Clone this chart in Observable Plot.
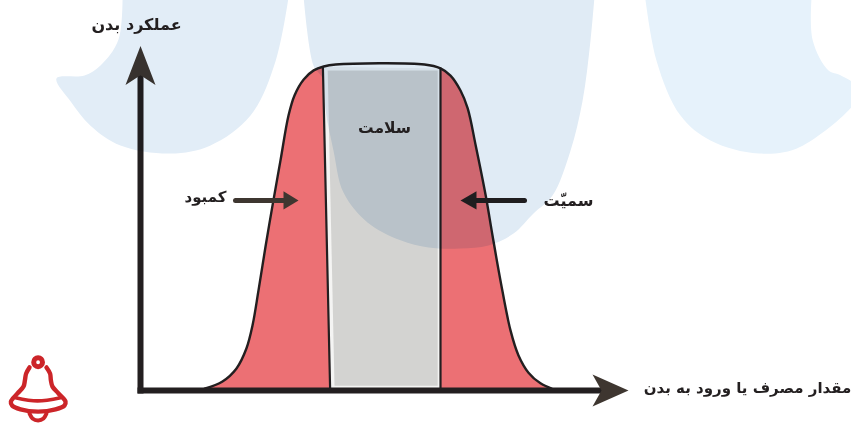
<!DOCTYPE html>
<html lang="fa"><head><meta charset="utf-8">
<script src="https://cdn.jsdelivr.net/npm/d3@7"></script>
<script src="https://cdn.jsdelivr.net/npm/@observablehq/plot@0.6"></script>
<style>html,body{margin:0;padding:0;background:#fff}svg{display:block}</style>
</head><body><div id="chart"></div>
<script>
// All values are in chart units: dose (x) and performance (y).
const doseDomain = [-35, 177.75];
const perfDomain = [-10.15, 120];
const U = (a) => a.map(([dose, perf]) => ({dose, perf}));

const responseCurve = U([[16,0.6],[20.5,2.8],[24,6.8],[26.5,13],[28,20],[29.5,30.8],[31.3,44.6],[33,56.9],[35,70.8],[37,84.6],[38.5,90.8],[40.8,95.7],[43.3,98.5],[45.8,99.7],[48.8,100.3],[71,100.3],[75,99.1],[77.5,96.9],[80,92.3],[81.8,86.8],[83.8,75.4],[86.3,60],[88,47.7],[90,33.8],[92.5,18.5],[94.5,10.8],[97,5.5],[100,2.2],[102.8,0.6]]);
const deficiencyArea = [...responseCurve.filter(d => d.dose <= 45.8), ...U([[45.9,95],[46.7,50],[47.5,5],[47.6,0.6]])];
const toxicityArea = [...U([[75,0.6],[75,5],[75,50],[75,95]]), ...responseCurve.filter(d => d.dose >= 75)];
const healthyBorder = U([[45.7,99.6],[47.5,0.6],[75,0.6],[75,99.1]]);
const healthyArea = U([[46.8,98.5],[48.5,1.5],[74.3,1.5],[74.3,98.5]]);
const leftDivider = U([[45.6,99.5],[47.4,0.6]]);
const rightDivider = U([[75,99.1],[75,0.6]]);
const xAxisLine = U([[0,0],[116,0]]);
const yAxisLine = U([[0,0],[0,97]]);
const xArrow = U([[113,4.9],[122,0],[113,-4.9],[115.25,0]]);
const yArrow = U([[0,106],[3.75,94],[0,97],[-3.75,94]]);
const defArrowShaft = U([[23.75,58.5],[36,58.5]]);
const defArrowHead = U([[35.75,61.3],[39.5,58.5],[35.75,55.7]]);
const toxArrowShaft = U([[96,58.5],[84,58.5]]);
const toxArrowHead = U([[84,61.3],[80,58.5],[84,55.7]]);
const labels = [
  {dose:-1, perf:112.5, text:"عملکرد بدن", size:16},
  {dose:61, perf:80.9, text:"سلامت", size:15.5},
  {dose:16.25, perf:59.5, text:"کمبود", size:15},
  {dose:107, perf:58.5, text:"سمیّت", size:16},
  {dose:151.75, perf:0.6, text:"مقدار مصرف یا ورود به بدن", size:15}
];
// Background watermark blobs
const blobA = U([[-4.5,125],[-5.5,108],[-10,100],[-14,96.9],[-21,96],[-17.5,89],[-12.5,81.5],[-5,75.4],[7.5,72.9],[17.5,75.4],[27.5,84.6],[33.8,101.5],[37.5,125]]);
const blobB = U([[40.5,125],[43.25,100],[45.5,96],[46.3,86],[48.25,73.8],[50.75,60.9],[56.75,51.7],[65,46.2],[72,44],[80,43.7],[87,44.6],[93.25,48.3],[98.25,54.5],[103,60],[107.5,73.8],[110.5,89],[112.5,107.7],[113.75,125]]);
const blobC = U([[125.75,125],[129,101.5],[135,84.6],[142.5,76.9],[154.5,72.9],[165,75],[180,92],[175,97],[172,98.5],[168,108],[168,125]]);
// Bell icon
const bellBody = U([[-27.75,7.1],[-28.6,5.2],[-28.9,3.1],[-29.25,1.2],[-30.75,-0.9],[-32.4,-3.4],[-32.1,-4.6],[-30,-5.8],[-25.6,-6.5],[-21.25,-5.8],[-19,-4.6],[-18.75,-3.4],[-20.5,-0.9],[-22,1.2],[-22.4,3.1],[-22.6,5.2],[-23.5,7.1]]);
const bellBand = U([[-31.25,-2.2],[-25.75,-3.2],[-20,-2.2]]);
const bellClapper = U([[-27.75,-7.1],[-27,-8.6],[-25.6,-9.2],[-24.25,-8.6],[-23.5,-7.1]]);
const bellKnob = [{dose:-25.6, perf:8.7}];

const line = (data, o) => Plot.line(data, {x:"dose", y:"perf", ...o});
const shape = (data, fill, o={}) => Plot.line(data, {x:"dose", y:"perf", fill, stroke:"none", ...o});
const smooth = {curve:"catmull-rom"};
const watermark = {mixBlendMode:"multiply", curve:"catmull-rom"};

const plot = Plot.plot({
  width:851, height:423, margin:0,
  x:{domain:doseDomain, range:[0,851], axis:null},
  y:{domain:perfDomain, range:[423,0], axis:null},
  style:{background:"#fff", fontFamily:"'DejaVu Sans',sans-serif"},
  marks:[
    shape(deficiencyArea,"#ec7074",smooth),
    shape(toxicityArea,"#ec7074",smooth),
    shape(healthyBorder,"#f4f4f3"),
    shape(healthyArea,"#d3d3d1"),
    line(leftDivider,{stroke:"#231f20",strokeWidth:2.2}),
    line(rightDivider,{stroke:"#231f20",strokeWidth:2.2}),
    line(responseCurve,{stroke:"#231f20",strokeWidth:2.4,...smooth}),
    line(xAxisLine,{stroke:"#231f20",strokeWidth:6,strokeLinecap:"square"}),
    line(yAxisLine,{stroke:"#231f20",strokeWidth:6,strokeLinecap:"square"}),
    shape(xArrow,"#3e3630"),
    shape(yArrow,"#3e3630"),
    line(defArrowShaft,{stroke:"#3e3630",strokeWidth:5}),
    shape(defArrowHead,"#3e3630"),
    line(toxArrowShaft,{stroke:"#231f20",strokeWidth:5}),
    shape(toxArrowHead,"#231f20"),
    shape(blobA,"#e2edf7",watermark),
    shape(blobB,"#e0ebf5",watermark),
    shape(blobC,"#e6f2fb",watermark),
    Plot.text(labels,{x:"dose",y:"perf",text:"text",fontSize:"size",fontWeight:"bold",fill:"#231f20",textAnchor:"middle",lineAnchor:"middle"}),
    line(bellBody,{stroke:"#cc2529",strokeWidth:4.4,...smooth}),
    line(bellBand,{stroke:"#cc2529",strokeWidth:3.6,...smooth}),
    line(bellClapper,{stroke:"#cc2529",strokeWidth:4,...smooth}),
    Plot.dot(bellKnob,{x:"dose",y:"perf",r:4.4,stroke:"#cc2529",strokeWidth:5,fill:"#fff"})
  ]
});
document.getElementById("chart").append(plot);
</script></body></html>
